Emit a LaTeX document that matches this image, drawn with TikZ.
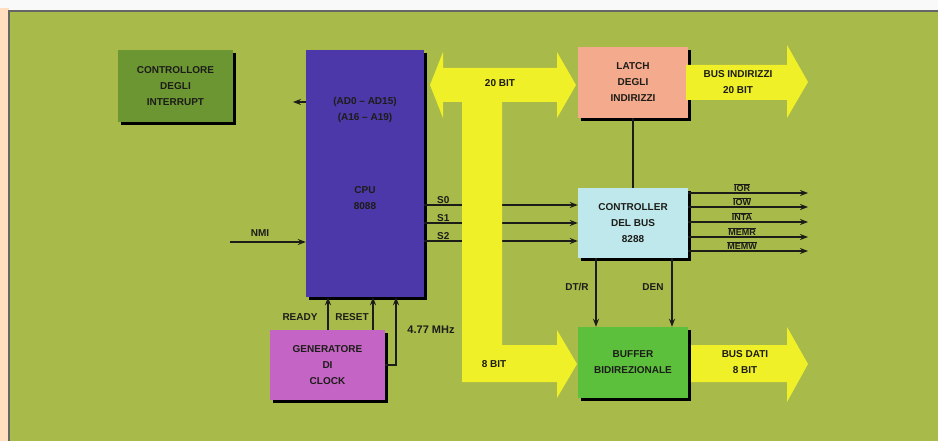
\documentclass[tikz,border=0pt]{standalone}
\usepackage{fontspec}
\setmainfont{Liberation Sans}
\usepackage{xcolor}
\usetikzlibrary{arrows.meta,shadows}

\definecolor{panel}{RGB}{168,186,74}
\definecolor{intcfill}{RGB}{108,150,50}
\definecolor{cpufill}{RGB}{76,56,168}
\definecolor{latchfill}{RGB}{244,170,140}
\definecolor{ctrlfill}{RGB}{190,232,236}
\definecolor{buffill}{RGB}{92,192,60}
\definecolor{clkfill}{RGB}{196,100,196}
\definecolor{busyellow}{RGB}{240,240,40}
\definecolor{ink}{RGB}{28,28,24}

\tikzset{
  blk/.style={inner sep=0pt, align=center, text=ink,
    font=\fontsize{10}{16}\selectfont\bfseries,
    drop shadow={shadow xshift=3pt, shadow yshift=-3pt, opacity=1, fill=black}},
  sig/.style={line width=1.3pt, draw=ink, -{Stealth[length=8pt,width=6pt]}},
  wire/.style={line width=1.3pt, draw=ink},
  lbl/.style={inner sep=0pt, text=ink, font=\fontsize{10}{16}\selectfont\bfseries},
  bus/.style={fill=busyellow, draw=none}
}

\begin{document}
\begin{tikzpicture}[x=1pt,y=-1pt]
  \useasboundingbox (0,0) rectangle (938,441);
  % page and panel
  \fill[white!95!gray] (0,0) rectangle (938,441);
  \fill[orange!25!white] (0,8) rectangle (9,441);
  \fill[panel] (9,11) rectangle (938,441);
  \draw[line width=1.2pt, black!60] (9,441) -- (9,11) -- (938,11);

  % signal points
  \coordinate (intout) at (293,102);
  \coordinate (nmi) at (230,242);
  \coordinate (s0) at (0,205);
  \coordinate (s1) at (0,223);
  \coordinate (s2) at (0,241);
  \coordinate (rdy) at (328,0);
  \coordinate (rst) at (373,0);
  \coordinate (mhz) at (396,365);
  \coordinate (dtr) at (596,0);
  \coordinate (den) at (672,0);

  % blocks
  \node[blk, fill=intcfill, minimum width=115pt, minimum height=72pt] (intc) at (175.5,86) {CONTROLLORE\\DEGLI\\INTERRUPT};
  \node[blk, fill=cpufill, minimum width=118pt, minimum height=247pt] (cpu) at (365,173.5) {};
  \node[blk, fill=latchfill, minimum width=110pt, minimum height=71pt] (latch) at (633,82.5) {LATCH\\DEGLI\\INDIRIZZI};
  \node[blk, fill=ctrlfill, minimum width=110pt, minimum height=70pt] (ctrl) at (633,223) {CONTROLLER\\DEL BUS\\8288};
  \node[blk, fill=clkfill, minimum width=115pt, minimum height=70pt] (clk) at (327.5,365) {GENERATORE\\DI\\CLOCK};

  % cpu texts
  \node[lbl, align=center] (cpuaddr) at (365,110) {(AD0 -- AD15)\\(A16 -- A19)};
  \node[lbl, align=center] (cpuname) at (365,198) {CPU\\8088};

  % status lines (under the bus)
  \foreach \s/\t in {s0/S0, s1/S1, s2/S2} {
    \draw[sig] (cpu.east |- \s) -- (ctrl.west |- \s);
    \node[lbl, anchor=south] (lbl\s) at ([xshift=19pt,yshift=1pt]cpu.east |- \s) {\t};
  }

  % yellow buses
  \fill[bus] (430,85) -- (443,52) -- (443,68) -- (557,68) -- (557,52) -- (576,85)
        -- (557,118) -- (557,102) -- (502,102) -- (502,345) -- (557,345) -- (557,330)
        -- (577,364) -- (557,398) -- (557,382) -- (462,382) -- (462,102) -- (443,102)
        -- (443,118) -- cycle;
  \fill[bus] (686,65) -- (787,65) -- (787,45) -- (808,82) -- (787,118) -- (787,100) -- (686,100) -- cycle;
  \fill[bus] (686,345) -- (787,345) -- (787,327) -- (808,364) -- (787,402) -- (787,382) -- (686,382) -- cycle;
  \node[lbl] (bus20) at (500,83) {20 BIT};
  \node[lbl] (bus8) at (494,364) {8 BIT};
  \node[lbl, align=center] (busaddr) at (738,82) {BUS INDIRIZZI\\20 BIT};
  \node[lbl, align=center] (busdata) at (745,362) {BUS DATI\\8 BIT};

  % buffer on top of the bus
  \node[blk, fill=buffill, minimum width=110pt, minimum height=71pt] (buf) at (633,362.5) {BUFFER\\BIDIREZIONALE};

  % cpu signals
  \draw[sig] (intout -| cpu.west) -- (intout);
  \draw[sig] (nmi) -- (nmi -| cpu.west);
  \node[lbl] (nmilbl) at (260,233) {NMI};

  % clock
  \draw[sig] (clk.north -| rdy) -- (cpu.south -| rdy);
  \draw[sig] (clk.north -| rst) -- (cpu.south -| rst);
  \draw[sig] (clk.east |- mhz) -- (mhz) -- (mhz |- cpu.south);
  \node[lbl] (rdylbl) at (300,317) {READY};
  \node[lbl] (rstlbl) at (352,317) {RESET};
  \node[lbl, font=\fontsize{11}{12}\selectfont\bfseries] (mhzlbl) at (431,330) {4.77 MHz};

  % bus controller
  \draw[wire] (ctrl.north) -- (latch.south);
  \draw[sig] (ctrl.south -| dtr) -- (buf.north -| dtr);
  \draw[sig] (ctrl.south -| den) -- (buf.north -| den);
  \node[lbl] (dtrlbl) at (577,287) {DT/R};
  \node[lbl] (denlbl) at (653,287) {DEN};
  \foreach \y/\t [count=\i] in {193/IOR, 207/IOW, 222/INTA, 237/MEMR, 251/MEMW} {
    \coordinate (out\i) at (808,\y);
    \draw[sig] (ctrl.east |- out\i) -- (out\i);
    \node[lbl, anchor=south, font=\fontsize{9}{10}\selectfont\bfseries] (outlbl\i) at ([yshift=1pt]742,\y) {$\overline{\hbox{\t}}$};
  }
\end{tikzpicture}
\end{document}
